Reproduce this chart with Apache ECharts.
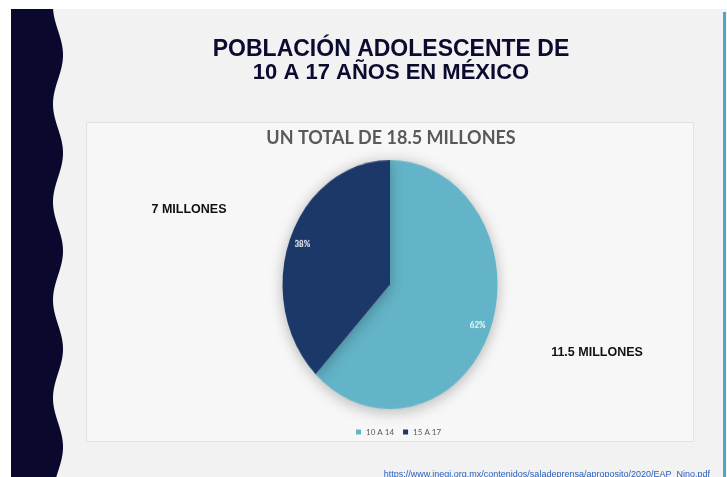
<!DOCTYPE html>
<html>
<head>
<meta charset="utf-8">
<script src="https://cdn.jsdelivr.net/npm/echarts@6/dist/echarts.min.js"></script>
<style>
  html, body { margin: 0; padding: 0; overflow: hidden; background: #ffffff; }
  #wrap { position: relative; width: 727px; height: 477px; overflow: hidden; }
  #main { position: absolute; left: 0; top: 0; width: 727px; height: 477px; }
  #pie { position: absolute; left: 0; top: 0; width: 727px; height: 477px;
         transform: scaleY(1.158); transform-origin: 390px 284.5px; pointer-events: none; }
</style>
</head>
<body>
<div id="wrap">
  <div id="main"></div>
  <div id="pie"></div>
</div>
<script>
// ---- data ----
const categories = ['10 A 14', '15 A 17'];
const values = [11.5, 7];
const titleLines = ['POBLACIÓN ADOLESCENTE DE', '10 A 17 AÑOS EN MÉXICO'];
const sourceUrl = 'https://www.inegi.org.mx/contenidos/saladeprensa/aproposito/2020/EAP_Nino.pdf';

// ---- style ----
const sliceColors = ['#63b4c8', '#1c3869'];
const total = values.reduce((a, b) => a + b, 0);
const pieData = categories.map((c, i) => ({ name: c, value: values[i] }));

// wave edge of the left band (decoration)
const wavePts = [[11, 9], [11, 477]];
for (let y = 477; y >= 9; y -= 2) {
  wavePts.push([58 + 5 * Math.sin(2 * Math.PI * (y - 30.5) / 98), y]);
}
wavePts.push([58 + 5 * Math.sin(2 * Math.PI * (9 - 30.5) / 98), 9]);

const main = echarts.init(document.getElementById('main'), null, { renderer: 'canvas' });
main.setOption({
  animation: false,
  backgroundColor: '#ffffff',
  color: sliceColors,
  legend: {
    data: categories,
    left: 351, top: 423,
    icon: 'rect', itemWidth: 5, itemHeight: 5, itemGap: 9,
    selectedMode: false,
    textStyle: { fontFamily: 'Lato', fontSize: 8, color: '#595959' }
  },
  graphic: [
    { type: 'rect', shape: { x: 11, y: 9, width: 716, height: 468 }, style: { fill: '#f2f2f2' } },
    { type: 'polygon', shape: { points: wavePts }, style: { fill: '#0a082d' } },
    { type: 'rect', shape: { x: 723, y: 12, width: 3, height: 465 }, style: { fill: '#4fa6c6' } },
    { type: 'rect', shape: { x: 86.5, y: 122.5, width: 607, height: 319 },
      style: { fill: '#f7f7f7', stroke: '#e2e2e2', lineWidth: 1 } },
    { type: 'text', x: 391, y: 49.5, style: { text: titleLines[0], fill: '#0b0a2f',
      font: 'bold 23px "Liberation Sans", Arial, sans-serif', align: 'center', verticalAlign: 'middle' } },
    { type: 'text', x: 391, y: 72.5, style: { text: titleLines[1], fill: '#0b0a2f',
      font: 'bold 22px "Liberation Sans", Arial, sans-serif', align: 'center', verticalAlign: 'middle' } },
    { type: 'text', x: 391, y: 138.5, style: { text: 'UN TOTAL DE ' + total + ' MILLONES', fill: '#595959',
      font: 'bold 18px Lato, sans-serif', align: 'center', verticalAlign: 'middle' } },
    { type: 'text', x: 189, y: 209.5, style: { text: values[1] + ' MILLONES', fill: '#111111',
      font: 'bold 12.5px "Liberation Sans", Arial, sans-serif', align: 'center', verticalAlign: 'middle' } },
    { type: 'text', x: 597, y: 353, style: { text: values[0] + ' MILLONES', fill: '#111111',
      font: 'bold 12.5px "Liberation Sans", Arial, sans-serif', align: 'center', verticalAlign: 'middle' } },
    { type: 'text', x: 710, y: 475, style: { text: sourceUrl, fill: '#2a62c0',
      font: '9px "Liberation Sans", Arial, sans-serif', align: 'right', verticalAlign: 'middle' } }
  ],
  series: [{
    type: 'pie', center: [390, 285], radius: 0, silent: true,
    label: { show: false }, labelLine: { show: false },
    data: pieData
  }]
});

const pie = echarts.init(document.getElementById('pie'), null, { renderer: 'canvas' });
pie.setOption({
  animation: false,
  backgroundColor: 'transparent',
  color: sliceColors,
  series: [
    {
      type: 'pie', center: [390, 284.5], radius: 107.5, startAngle: 90, clockwise: true,
      silent: true,
      label: { show: false }, labelLine: { show: false },
      itemStyle: { borderWidth: 0, shadowBlur: 14, shadowColor: 'rgba(0,0,0,0.28)', shadowOffsetY: 2 },
      data: pieData
    },
    {
      type: 'pie', center: [390, 284.5], radius: [80, 103], startAngle: 90, clockwise: true,
      silent: true,
      itemStyle: { color: 'transparent', borderWidth: 0 },
      label: {
        show: true, position: 'inside', color: '#ffffff',
        fontFamily: 'Lato', fontWeight: 'bold', fontSize: 8,
        formatter: p => Math.round(p.percent) + '%'
      },
      labelLine: { show: false },
      data: pieData
    }
  ]
});
</script>
</body>
</html>
